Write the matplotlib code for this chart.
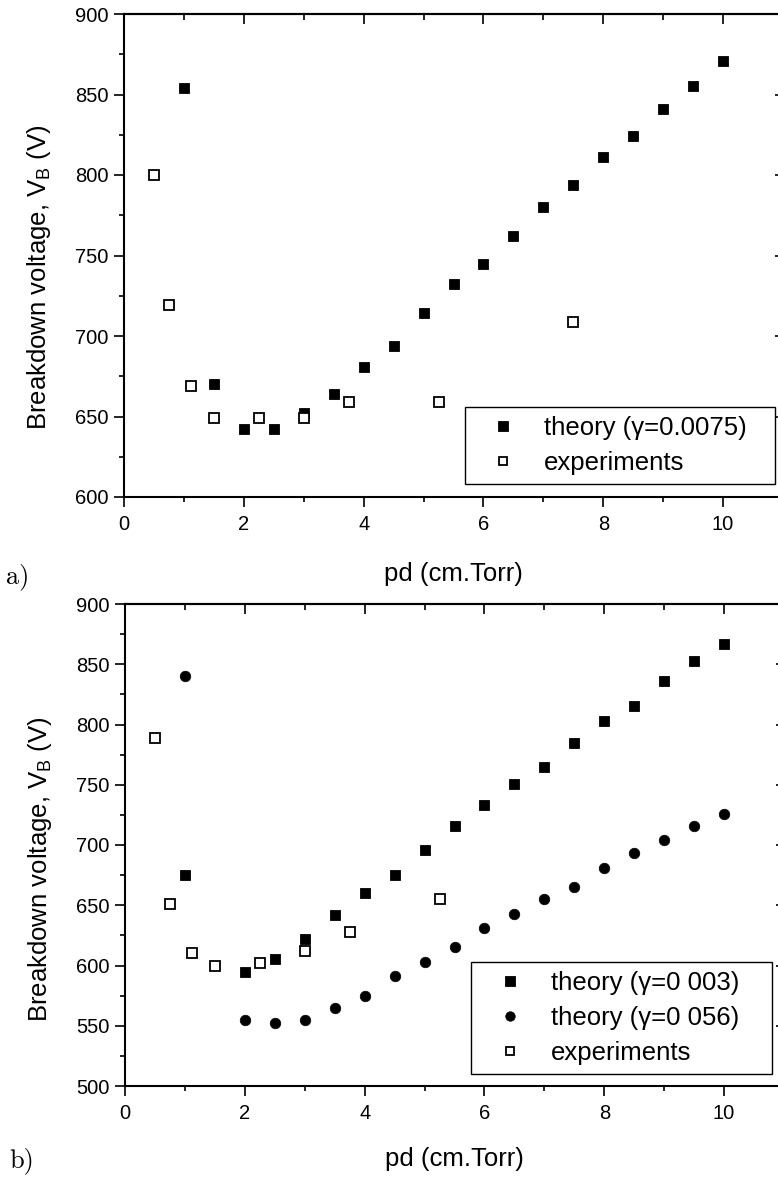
import matplotlib
matplotlib.use("Agg")
import matplotlib.pyplot as plt
from matplotlib.ticker import MultipleLocator

plt.rcParams['font.family'] = ['Liberation Sans', 'DejaVu Sans']
plt.rcParams['mathtext.fontset'] = 'custom'
plt.rcParams['mathtext.rm'] = 'Liberation Sans'
plt.rcParams['mathtext.it'] = 'Liberation Sans:italic'

# ---- data: panel a ----
pd_theory_a = [1.0, 1.5, 2.0, 2.5, 3.0, 3.5, 4.0, 4.5, 5.0, 5.5,
               6.0, 6.5, 7.0, 7.5, 8.0, 8.5, 9.0, 9.5, 10.0]
vb_theory_a = [854, 670, 642, 642, 652, 664, 681, 694, 714, 732,
               745, 762, 780, 794, 811, 824, 841, 855, 871]
pd_exp_a = [0.5, 0.75, 1.12, 1.5, 2.25, 3.0, 3.75, 5.25, 7.5]
vb_exp_a = [800, 719, 669, 649, 649, 649, 659, 659, 709]

# ---- data: panel b ----
pd_theory_b = [1.0, 2.0, 2.5, 3.0, 3.5, 4.0, 4.5, 5.0, 5.5,
               6.0, 6.5, 7.0, 7.5, 8.0, 8.5, 9.0, 9.5, 10.0]
vb_theory_b1 = [675, 595, 605, 622, 642, 660, 675, 696, 716,
                733, 751, 765, 785, 803, 815, 836, 853, 867]
vb_theory_b2 = [840, 555, 552, 555, 565, 575, 591, 603, 615,
                631, 643, 655, 665, 681, 693, 704, 716, 726]
pd_exp_b = [0.5, 0.75, 1.12, 1.5, 2.25, 3.0, 3.75, 5.25]
vb_exp_b = [789, 651, 610, 600, 602, 612, 628, 655]

labels_a = ['theory (\u03b3=0.0075)', 'experiments']
labels_b = ['theory (\u03b3=0 003)', 'theory (\u03b3=0 056)', 'experiments']

W, H = 778, 1179
fig = plt.figure(figsize=(W / 100, H / 100), dpi=100)
ax1 = fig.add_axes([124 / W, 1 - 497 / H, 659 / W, 483 / H])
ax2 = fig.add_axes([125 / W, 1 - 1086 / H, 659 / W, 482 / H])

sq = dict(marker='s', linestyle='none', color='black', markersize=7.4,
          markeredgewidth=0.6)
osq = dict(marker='s', linestyle='none', markerfacecolor='white',
           markeredgecolor='black', markersize=7.0, markeredgewidth=1.3)
circ = dict(marker='o', linestyle='none', color='black', markersize=7.6,
            markeredgewidth=0.5)


def style(ax, ylo, yhi, ylab_y):
    ax.set_xlim(0, 11)
    ax.set_ylim(ylo, yhi)
    ax.xaxis.set_major_locator(MultipleLocator(2))
    ax.xaxis.set_minor_locator(MultipleLocator(1))
    ax.yaxis.set_major_locator(MultipleLocator(50))
    ax.yaxis.set_minor_locator(MultipleLocator(25))
    for s in ax.spines.values():
        s.set_linewidth(1.5)
    ax.tick_params(which='both', direction='out', top=False, right=False,
                   labelsize=14.5, width=1.2)
    ax.tick_params(which='major', length=7.2, pad=4)
    ax.tick_params(which='minor', length=3.6)
    ax.tick_params(axis='x', which='major', pad=6)
    # inward ticks on top and right
    sx = ax.secondary_xaxis('top')
    sx.xaxis.set_major_locator(MultipleLocator(2))
    sx.xaxis.set_minor_locator(MultipleLocator(1))
    sx.tick_params(which='both', direction='in', labeltop=False, width=1.2)
    sx.tick_params(which='major', length=7.2)
    sx.tick_params(which='minor', length=4.3)
    sx.spines['top'].set_linewidth(1.5)
    sy = ax.secondary_yaxis('right')
    sy.yaxis.set_major_locator(MultipleLocator(50))
    sy.yaxis.set_minor_locator(MultipleLocator(25))
    sy.tick_params(which='both', direction='in', labelright=False, width=1.2)
    sy.tick_params(which='major', length=6)
    sy.tick_params(which='minor', length=3.6)
    ax.set_xlabel('pd (cm.Torr)', fontsize=18.5)
    ax.set_ylabel(r'Breakdown voltage, V$_\mathrm{B}$ (V)', fontsize=18.5)
    ax.yaxis.set_label_coords(-0.108, ylab_y)


leg_kw = dict(mode='expand', fontsize=18.5, frameon=True, fancybox=False,
              edgecolor='black', framealpha=1, borderpad=0.35,
              handlelength=2.3, handletextpad=0.45, labelspacing=0.42,
              borderaxespad=0, markerscale=0.9)

# panel a
ax1.plot(pd_theory_a, vb_theory_a, label=labels_a[0], **sq)
ax1.plot(pd_exp_a, vb_exp_a, label=labels_a[1], **osq)
style(ax1, 600, 900, 0.455)
ax1.xaxis.set_label_coords(0.5, -0.135)
leg1 = ax1.legend(loc='lower left', bbox_to_anchor=(0.517, 0.027, 0.471, 0.166),
                  **leg_kw)
leg1.get_frame().set_linewidth(1.0)

# panel b
ax2.plot(pd_theory_b, vb_theory_b1, label=labels_b[0], **sq)
ax2.plot(pd_theory_b, vb_theory_b2, label=labels_b[1], **circ)
ax2.plot(pd_exp_b, vb_exp_b, label=labels_b[2], **osq)
style(ax2, 500, 900, 0.449)
ax2.xaxis.set_label_coords(0.5, -0.127)
leg2 = ax2.legend(loc='lower left', bbox_to_anchor=(0.525, 0.025, 0.457, 0.257),
                  **leg_kw)
leg2.get_frame().set_linewidth(1.0)

fig.text(18 / W, 1 - 577 / H, 'a)', family='cmr10', fontsize=19,
         ha='center', va='center')
fig.text(22 / W, 1 - 1161 / H, 'b)', family='cmr10', fontsize=19,
         ha='center', va='center')

fig.savefig('out.png', dpi=100)
